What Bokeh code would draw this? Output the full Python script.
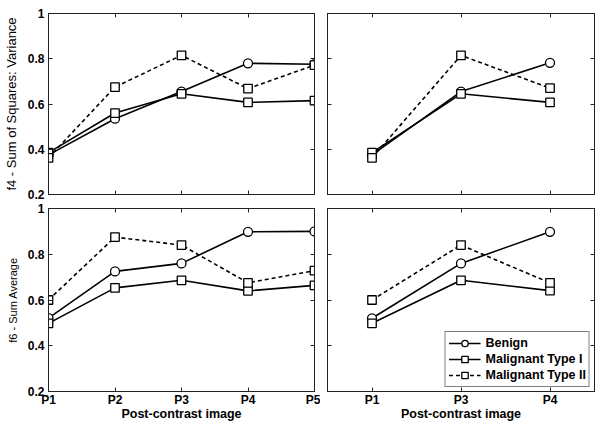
from bokeh.plotting import figure
from bokeh.layouts import column, row
from bokeh.models import (LinearAxis, FixedTicker, Range1d, Legend, LegendItem,
                          NumeralTickFormatter)
from bokeh.embed import file_html
from bokeh.resources import INLINE

# ---------------- data ----------------
cats_left = ["P1", "P2", "P3", "P4", "P5"]
cats_right = ["P1", "P3", "P4"]
y_ticks = [0.2, 0.4, 0.6, 0.8, 1.0]
series_names = ["Benign", "Malignant Type I", "Malignant Type II"]

f4_benign_l = [0.375, 0.535, 0.655, 0.780, 0.776]
f4_mal1_l = [0.385, 0.560, 0.645, 0.607, 0.615]
f4_mal2_l = [0.362, 0.675, 0.815, 0.668, 0.772]

f4_benign_r = [0.375, 0.655, 0.782]
f4_mal1_r = [0.385, 0.645, 0.607]
f4_mal2_r = [0.362, 0.815, 0.670]

f6_benign_l = [0.521, 0.725, 0.760, 0.898, 0.900]
f6_mal1_l = [0.498, 0.653, 0.686, 0.640, 0.664]
f6_mal2_l = [0.600, 0.875, 0.840, 0.675, 0.728]

f6_benign_r = [0.520, 0.760, 0.898]
f6_mal1_r = [0.498, 0.686, 0.641]
f6_mal2_r = [0.600, 0.840, 0.675]

ylabel_top = "f4 - Sum of Squares: Variance"
ylabel_bottom = "f6 - Sum Average"
xlabel = "Post-contrast image"

FONT = "Liberation Sans"
AX = "#222222"

styles = [
    dict(marker="circle", size=9, dash="solid"),
    dict(marker="square", size=8.5, dash="solid"),
    dict(marker="square", size=8.5, dash="4 3"),
]


def style_axis(ax, show_labels):
    ax.axis_line_color = AX
    ax.major_tick_line_color = AX
    ax.major_tick_in = 4
    ax.major_tick_out = 0
    ax.minor_tick_line_color = None
    ax.major_label_text_font = FONT
    ax.major_label_text_font_style = "bold"
    ax.axis_label_text_color = "black"
    if show_labels:
        ax.major_label_text_color = "black"
        ax.major_label_text_font_size = "12px"
        ax.major_label_standoff = 4
    else:
        ax.major_label_text_color = None
        ax.major_label_text_font_size = "1px"
        ax.major_label_standoff = 0


def make_panel(cats, data, fw, fh, borders, xlab=None, ylab=None, ylab_size="13px",
               show_ylabels=True, legend=False, xrange=None):
    xs = list(range(1, len(cats) + 1))
    p = figure(frame_width=fw, frame_height=fh,
               x_range=Range1d(*xrange), y_range=Range1d(0.2, 1.0),
               output_backend="svg", toolbar_location=None,
               x_axis_location=None, y_axis_location=None,
               min_border_left=borders[0], min_border_right=borders[1],
               min_border_top=borders[2], min_border_bottom=borders[3])
    p.grid.visible = False
    p.outline_line_color = AX
    p.background_fill_color = "white"
    p.border_fill_color = "white"

    xt = FixedTicker(ticks=xs)
    overrides = {x: c for x, c in zip(xs, cats)}
    yt = FixedTicker(ticks=y_ticks)
    yfmt = NumeralTickFormatter(format="0.[0]")

    # bottom axis
    bx = LinearAxis(ticker=xt, major_label_overrides=overrides)
    style_axis(bx, xlab is not None)
    if xlab:
        bx.axis_label = xlab
        bx.axis_label_text_font = FONT
        bx.axis_label_text_font_style = "bold"
        bx.axis_label_text_font_size = "12.5px"
        bx.axis_label_standoff = -3
        bx.major_label_standoff = 1
    p.add_layout(bx, "below")
    tx = LinearAxis(ticker=xt, major_label_overrides=overrides)
    style_axis(tx, False)
    p.add_layout(tx, "above")

    ly = LinearAxis(ticker=yt, formatter=yfmt)
    style_axis(ly, show_ylabels)
    if ylab:
        ly.axis_label = ylab
        ly.axis_label_text_font = FONT
        ly.axis_label_text_font_style = "normal"
        ly.axis_label_text_font_size = ylab_size
        ly.axis_label_standoff = 6
    p.add_layout(ly, "left")
    ry = LinearAxis(ticker=yt, formatter=yfmt)
    style_axis(ry, False)
    p.add_layout(ry, "right")

    lines, marks = [], []
    for vals, st in zip(data, styles):
        lines.append(p.line(xs, vals, line_color="black", line_width=1.6,
                            line_dash=st["dash"]))
    for vals, st in zip(data, styles):
        marks.append(p.scatter(xs, vals, marker=st["marker"], size=st["size"],
                               fill_color="white", line_color="black",
                               line_width=1.3))
    if legend:
        items = [LegendItem(label=n, renderers=[l, m])
                 for n, l, m in zip(series_names, lines, marks)]
        lg = Legend(items=items, location="bottom_right")
        lg.label_text_font = FONT
        lg.label_text_font_style = "bold"
        lg.label_text_font_size = "12.5px"
        lg.label_text_color = "black"
        lg.glyph_width = 32
        lg.glyph_height = 16
        lg.label_height = 16
        lg.spacing = 0
        lg.padding = 3
        lg.margin = 4
        lg.label_standoff = 5
        lg.border_line_color = "black"
        lg.border_line_width = 1
        lg.background_fill_color = "white"
        lg.background_fill_alpha = 1
        p.add_layout(lg)
    return p


LW, RW = 266, 267
TH, BH = 181, 183

tl = make_panel(cats_left, [f4_benign_l, f4_mal1_l, f4_mal2_l], LW, TH,
                (48, 6, 13, 7), ylab=ylabel_top, ylab_size="13px",
                xrange=(1, len(cats_left)))
tr = make_panel(cats_right, [f4_benign_r, f4_mal1_r, f4_mal2_r], RW, TH,
                (7, 5, 13, 7), show_ylabels=False,
                xrange=(0.5, len(cats_right) + 0.5))
bl = make_panel(cats_left, [f6_benign_l, f6_mal1_l, f6_mal2_l], LW, BH,
                (48, 6, 7, 33), xlab=xlabel, ylab=ylabel_bottom, ylab_size="11px",
                xrange=(1, len(cats_left)))
br = make_panel(cats_right, [f6_benign_r, f6_mal1_r, f6_mal2_r], RW, BH,
                (7, 5, 7, 33), xlab=xlabel, show_ylabels=False, legend=True,
                xrange=(0.5, len(cats_right) + 0.5))

layout = column(row(tl, tr), row(bl, br))

with open("out.html", "w") as f:
    f.write(file_html(layout, INLINE))
